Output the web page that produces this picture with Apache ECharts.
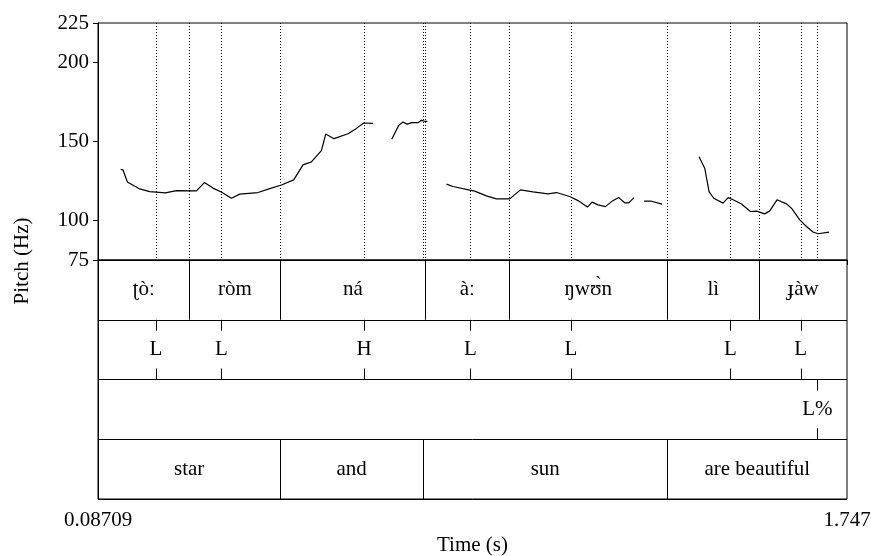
<!DOCTYPE html>
<html>
<head>
<meta charset="utf-8">
<script src="https://cdn.jsdelivr.net/npm/echarts@6/dist/echarts.min.js"></script>
<style>
html,body{margin:0;padding:0;background:#fff;}
#chart{width:871px;height:556px;}
</style>
</head>
<body>
<div id="chart"></div>
<script>
// ---- data ----
const timeMin = 0.08709;
const timeMax = 1.747;
const pitchMin = 75;
const pitchMax = 225;
const pitchTicks = [75, 100, 150, 200, 225];

// pitch contour (null = unvoiced gap)
const pitchTimes = [
  0.1374, 0.1425, 0.1522, 0.1795, 0.2017, 0.2365, 0.2609, 0.3052, 0.3229, 0.3420,
  0.3612, 0.3828, 0.4012, 0.4417, 0.4676, 0.4936, 0.5208, 0.5414, 0.5601, 0.5822,
  0.5918, 0.6101, 0.6412, 0.6598, 0.6760, 0.6966,
  0.717,
  0.7380, 0.7535, 0.7631, 0.7719, 0.7830, 0.7963, 0.8038, 0.8112, 0.8171,
  0.838,
  0.8593, 0.8739, 0.9109, 0.9220, 0.9479, 0.9701, 0.9996, 1.0233, 1.0512, 1.0845,
  1.1031, 1.1325, 1.1509, 1.1718, 1.1820, 1.1953, 1.2117, 1.2272, 1.2411, 1.2544,
  1.2633, 1.2750,
  1.286,
  1.2972, 1.3136, 1.3371,
  1.378,
  1.4191, 1.4229, 1.4317, 1.4413, 1.4517, 1.4723, 1.4834, 1.4945, 1.5131, 1.5330,
  1.5463, 1.5647, 1.5758, 1.5919, 1.6128, 1.6239, 1.6423, 1.6571, 1.6717, 1.6828,
  1.7072
];
const pitchHz = [
  132.4, 132.0, 124.4, 120.0, 118.3, 117.5, 118.9, 118.7, 124.0, 120.5,
  117.9, 114.1, 116.7, 117.7, 120.2, 122.5, 125.7, 135.2, 137.1, 144.2,
  154.7, 151.8, 154.9, 158.3, 161.7, 161.5,
  null,
  151.4, 160.2, 162.3, 161.0, 161.9, 161.9, 163.4, 162.8, 162.8,
  null,
  123.0, 121.5, 119.2, 118.6, 115.6, 113.7, 113.7, 119.4, 118.1, 116.9,
  117.7, 115.2, 112.6, 108.5, 111.6, 109.9, 108.8, 112.4, 114.5, 111.2,
  111.2, 114.5,
  null,
  112.2, 112.2, 110.4,
  null,
  140.4, 140.0, 133.1, 118.3, 114.1, 111.0, 114.5, 113.1, 110.4, 105.7,
  105.9, 104.2, 106.1, 113.1, 110.5, 107.8, 100.4, 96.2, 92.7, 91.6,
  92.7
];

// tier 1: syllables (interval tier)
const syllableBounds = [0.2897, 0.4913, 0.8127, 0.9980, 1.3490, 1.5521];
const syllableLabels = ['ʈòː', 'ròm', 'ná', 'àː', 'ŋwʊ̀n', 'lì', 'ɟàw'];
// tier 2: tones (point tier)
const tonePoints = [0.2156, 0.3606, 0.6766, 0.9124, 1.1354, 1.4887, 1.6445];
const toneLabels = ['L', 'L', 'H', 'L', 'L', 'L', 'L'];
// tier 3: boundary tones (point tier)
const breakPoints = [1.6815];
const breakLabels = ['L%'];
// tier 4: glosses (interval tier)
const wordBounds = [0.4913, 0.8074, 1.3490];
const wordLabels = ['star', 'and', 'sun', 'are beautiful'];

// ---- build ----
const FONT = '"Liberation Serif", "DejaVu Serif", serif';
const FS = 21;
const INK = '#000';

const pitchData = pitchTimes.map((t, i) => [t, pitchHz[i]]);

const tierDefs = [
  {kind: 'interval', bounds: syllableBounds, labels: syllableLabels},
  {kind: 'point', bounds: tonePoints, labels: toneLabels},
  {kind: 'point', bounds: breakPoints, labels: breakLabels},
  {kind: 'interval', bounds: wordBounds, labels: wordLabels}
];

const tierItems = [];
const allMarks = [];
tierDefs.forEach((td, ti) => {
  td.bounds.forEach(b => {
    tierItems.push({t: b, tier: ti, type: td.kind === 'interval' ? 'bound' : 'point'});
    allMarks.push(b);
  });
  if (td.kind === 'interval') {
    const edges = [timeMin].concat(td.bounds, [timeMax]);
    td.labels.forEach((lab, i) => {
      tierItems.push({t: (edges[i] + edges[i + 1]) / 2, tier: ti, type: 'label', text: lab});
    });
  } else {
    td.labels.forEach((lab, i) => {
      tierItems.push({t: td.bounds[i], tier: ti, type: 'label', text: lab});
    });
  }
});

const chart = echarts.init(document.getElementById('chart'), null, {renderer: 'canvas'});

const option = {
  animation: false,
  backgroundColor: '#fff',
  grid: [
    {left: 98, right: 24, top: 23, height: 237, show: true, borderColor: INK, borderWidth: 1,
      backgroundColor: 'transparent', outerBoundsMode: 'none', containLabel: false},
    {left: 98, right: 24, top: 260, height: 239, show: true, borderColor: INK, borderWidth: 1,
      backgroundColor: 'transparent', outerBoundsMode: 'none', containLabel: false}
  ],
  xAxis: [
    {type: 'value', gridIndex: 0, min: timeMin, max: timeMax, show: false},
    {
      type: 'value', gridIndex: 1, min: timeMin, max: timeMax,
      name: 'Time (s)', nameLocation: 'middle', nameGap: 36,
      nameTextStyle: {fontFamily: FONT, fontSize: FS, color: INK},
      axisLine: {show: true, lineStyle: {color: INK, width: 1}},
      axisTick: {show: true, inside: false, length: 5, lineStyle: {color: INK}, customValues: [timeMin, timeMax]},
      axisLabel: {show: true, margin: 11, fontFamily: FONT, fontSize: FS, color: INK,
        customValues: [timeMin, timeMax], showMinLabel: true, showMaxLabel: true,
        formatter: v => String(v)},
      splitLine: {show: false}
    }
  ],
  yAxis: [
    {
      type: 'value', gridIndex: 0, min: pitchMin, max: pitchMax,
      axisLine: {show: true, lineStyle: {color: INK, width: 1}},
      axisTick: {show: true, inside: false, length: 5, lineStyle: {color: INK}, customValues: pitchTicks},
      axisLabel: {show: true, margin: 9, fontFamily: FONT, fontSize: FS, color: INK, customValues: pitchTicks},
      splitLine: {show: false}
    },
    {
      type: 'value', gridIndex: 1, min: 0, max: 4, interval: 1, inverse: true,
      axisLine: {show: true, lineStyle: {color: INK, width: 1}},
      axisTick: {show: false}, axisLabel: {show: false},
      splitLine: {show: true, lineStyle: {color: INK, width: 1}}
    }
  ],
  graphic: [{
    type: 'text', x: 22, y: 261, rotation: Math.PI / 2,
    style: {text: 'Pitch (Hz)', align: 'center', verticalAlign: 'middle', font: FS + 'px ' + FONT, fill: INK}
  }],
  series: [
    {
      type: 'custom', xAxisIndex: 0, yAxisIndex: 0,
      data: allMarks.map(t => [t]),
      silent: true, z: 2,
      renderItem: (params, api) => {
        const t = api.value(0);
        const p0 = api.coord([t, pitchMax]);
        const p1 = api.coord([t, pitchMin]);
        const x = Math.round(p0[0]) + 0.5;
        return {type: 'line', shape: {x1: x, y1: p0[1], x2: x, y2: p1[1]},
          style: {stroke: INK, lineWidth: 1, lineDash: [1, 2]}};
      }
    },
    {
      type: 'line', xAxisIndex: 0, yAxisIndex: 0,
      data: pitchData, showSymbol: false, connectNulls: false,
      lineStyle: {color: INK, width: 1.2}, z: 5, silent: true
    },
    {
      type: 'custom', xAxisIndex: 1, yAxisIndex: 1,
      data: tierItems.map(it => [it.t, it.tier]),
      silent: true, z: 3,
      renderItem: (params, api) => {
        const it = tierItems[params.dataIndex];
        const top = api.coord([it.t, it.tier]);
        const bot = api.coord([it.t, it.tier + 1]);
        const x = Math.round(top[0]) + 0.5;
        if (it.type === 'bound') {
          return {type: 'line', shape: {x1: x, y1: top[1], x2: x, y2: bot[1]}, style: {stroke: INK, lineWidth: 1}};
        }
        if (it.type === 'point') {
          return {type: 'group', children: [
            {type: 'line', shape: {x1: x, y1: top[1], x2: x, y2: top[1] + 11}, style: {stroke: INK, lineWidth: 1}},
            {type: 'line', shape: {x1: x, y1: bot[1] - 11, x2: x, y2: bot[1]}, style: {stroke: INK, lineWidth: 1}}
          ]};
        }
        return {type: 'text', x: top[0], y: (top[1] + bot[1]) / 2,
          style: {text: it.text, align: 'center', verticalAlign: 'middle', font: FS + 'px ' + FONT, fill: INK}};
      }
    }
  ]
};
chart.setOption(option);
</script>
</body>
</html>
